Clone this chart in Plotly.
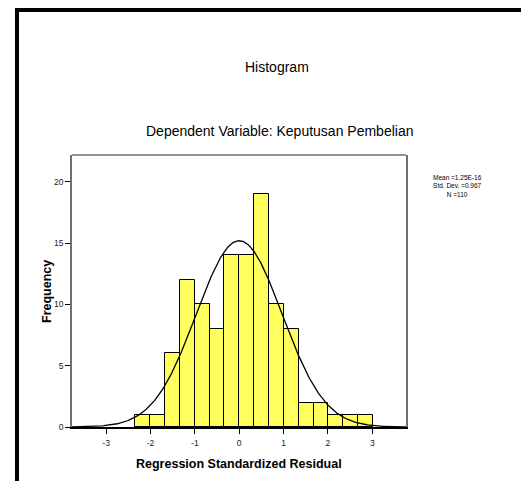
import numpy as np
import plotly.graph_objects as go

# ---- data ----
bin_start = -2.345          # left edge of first bin
bin_width = 0.335           # width of each bin
counts = [1, 1, 6, 12, 10, 8, 14, 14, 19, 10, 8, 2, 2, 1, 1, 1]
mean_val = 1.25e-16
std_val = 0.967
n_val = 110
x_ticks = [-3, -2, -1, 0, 1, 2, 3]
y_ticks = [0, 5, 10, 15, 20]

centers = [bin_start + bin_width * (i + 0.5) for i in range(len(counts))]

# fitted normal curve
x_range = [-3.77, 3.76]
xs = np.linspace(x_range[0], x_range[1], 400)
ys = n_val * bin_width * np.exp(-0.5 * ((xs - mean_val) / std_val) ** 2) / (std_val * np.sqrt(2 * np.pi))

FONT = "Liberation Sans, Arial, sans-serif"

fig = go.Figure()
fig.add_trace(go.Bar(
    x=centers, y=counts, width=bin_width,
    marker=dict(color="#FFFF5E", line=dict(color="#000000", width=1)),
    hoverinfo="x+y", showlegend=False,
))
fig.add_trace(go.Scatter(
    x=xs, y=ys, mode="lines",
    line=dict(color="#000000", width=1.3),
    hoverinfo="skip", showlegend=False,
))

# page offset (browser body margin)
OFF = 8
# plot frame in page pixels
FL, FR, FT, FB = 72, 406, 155, 427
W, H = 529 - OFF, 481 - OFF
L, T = FL - OFF, FT - OFF
R, B = W - (FR - OFF), H - (FB - OFF)
pw, ph = FR - FL, FB - FT

def px(x):
    return (x - FL) / pw

def py(y):
    return (FB - y) / ph

shapes = [
    # top frame line (gray)
    dict(type="line", xref="paper", yref="paper", x0=0, x1=1, y0=1, y1=1,
         line=dict(color="#707070", width=1.5)),
    # thick black border top
    dict(type="rect", xref="paper", yref="paper", x0=px(15), x1=px(540), y0=py(12), y1=py(7),
         fillcolor="#000000", line=dict(width=0)),
    # thick black border left
    dict(type="rect", xref="paper", yref="paper", x0=px(15), x1=px(19), y0=py(495), y1=py(7),
         fillcolor="#000000", line=dict(width=0)),
]

annotations = [
    dict(text="Histogram", xref="paper", yref="paper", x=px(277), y=py(67),
         showarrow=False, font=dict(family=FONT, size=14, color="#000000"),
         xanchor="center", yanchor="middle"),
    dict(text="Dependent Variable: Keputusan Pembelian", xref="paper", yref="paper",
         x=px(279), y=py(131), showarrow=False,
         font=dict(family=FONT, size=14, color="#000000"),
         xanchor="center", yanchor="middle"),
    dict(text=f"Mean =1.25E-16<br>Std. Dev. ={std_val}<br>N ={n_val}", xref="paper", yref="paper",
         x=px(457), y=py(186), showarrow=False, align="center",
         font=dict(family=FONT, size=6.5, color="#000000"),
         xanchor="center", yanchor="middle"),
    dict(text="<b>Frequency</b>", xref="paper", yref="paper", x=px(47), y=py(292),
         showarrow=False, textangle=-90,
         font=dict(family=FONT, size=12.5, color="#000000"),
         xanchor="center", yanchor="middle"),
    dict(text="<b>Regression Standardized Residual</b>", xref="paper", yref="paper",
         x=px(239), y=py(464), showarrow=False,
         font=dict(family=FONT, size=12.5, color="#000000"),
         xanchor="center", yanchor="middle"),
]

fig.update_layout(
    width=W, height=H,
    margin=dict(l=L, r=R, t=T, b=B, pad=0),
    paper_bgcolor="#FFFFFF", plot_bgcolor="#FFFFFF",
    bargap=0,
    shapes=shapes, annotations=annotations,
    font=dict(family=FONT, color="#000000"),
    xaxis=dict(
        range=x_range, tickvals=x_ticks, ticktext=[str(v) for v in x_ticks],
        showgrid=False, zeroline=False,
        showline=True, linecolor="#000000", linewidth=1.5,
        ticks="outside", ticklen=5, tickcolor="#000000", tickwidth=1,
        ticklabelstandoff=2,
        tickfont=dict(family=FONT, size=8.5, color="#222222"),
    ),
    yaxis=dict(
        range=[0, 22.2], tickvals=y_ticks,
        showgrid=False, zeroline=False,
        showline=True, linecolor="#707070", linewidth=1.5, mirror=True,
        ticks="outside", ticklen=5, tickcolor="#000000", tickwidth=1,
        tickfont=dict(family=FONT, size=8.5, color="#222222"),
    ),
)

fig.write_html("out.html")
